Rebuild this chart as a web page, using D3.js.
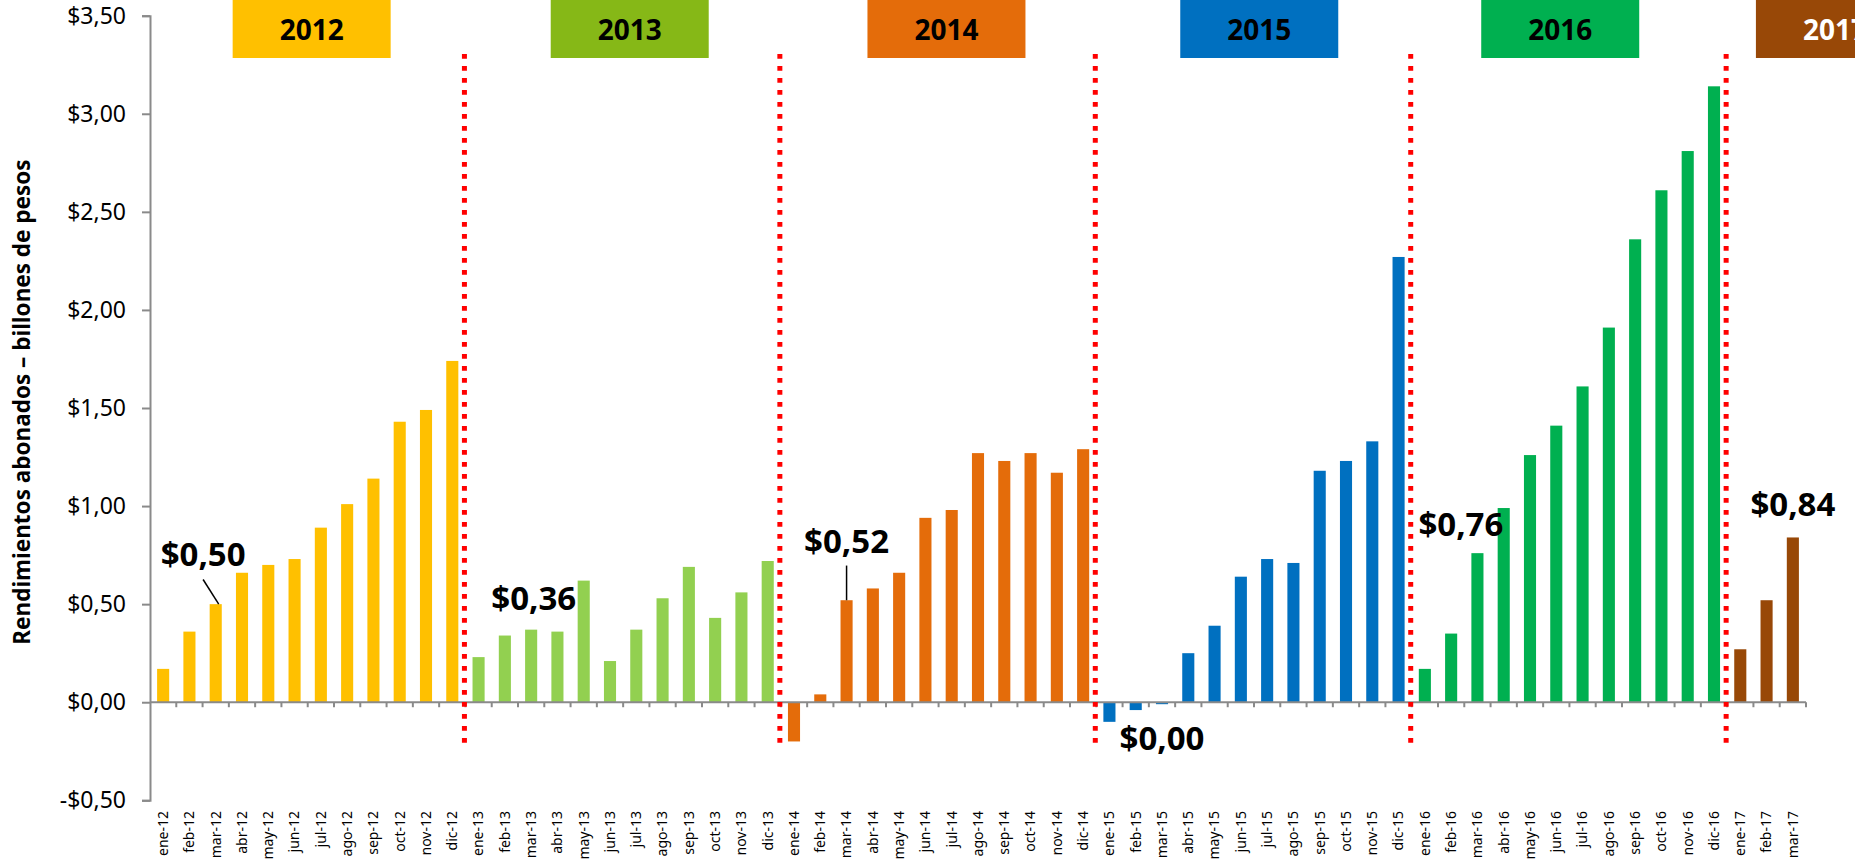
<!DOCTYPE html>
<html lang="es">
    <head>
        <meta charset="UTF-8" />
        <title>Rendimientos abonados</title>
        <script src="https://cdn.jsdelivr.net/npm/d3@7/dist/d3.min.js"></script>
    </head>
    <body style="padding: 0; margin: 0; background-color: #fff;">
        <script>
            // categorias (meses) por año
            const cats2012 = ['ene-12', 'feb-12', 'mar-12', 'abr-12', 'may-12', 'jun-12', 'jul-12', 'ago-12', 'sep-12', 'oct-12', 'nov-12', 'dic-12'];
            const cats2013 = ['ene-13', 'feb-13', 'mar-13', 'abr-13', 'may-13', 'jun-13', 'jul-13', 'ago-13', 'sep-13', 'oct-13', 'nov-13', 'dic-13'];
            const cats2014 = ['ene-14', 'feb-14', 'mar-14', 'abr-14', 'may-14', 'jun-14', 'jul-14', 'ago-14', 'sep-14', 'oct-14', 'nov-14', 'dic-14'];
            const cats2015 = ['ene-15', 'feb-15', 'mar-15', 'abr-15', 'may-15', 'jun-15', 'jul-15', 'ago-15', 'sep-15', 'oct-15', 'nov-15', 'dic-15'];
            const cats2016 = ['ene-16', 'feb-16', 'mar-16', 'abr-16', 'may-16', 'jun-16', 'jul-16', 'ago-16', 'sep-16', 'oct-16', 'nov-16', 'dic-16'];
            const cats2017 = ['ene-17', 'feb-17', 'mar-17'];

            // rendimientos abonados (billones de pesos)
            const vals2012 = [0.17, 0.36, 0.5, 0.66, 0.7, 0.73, 0.89, 1.01, 1.14, 1.43, 1.49, 1.74];
            const vals2013 = [0.23, 0.34, 0.37, 0.36, 0.62, 0.21, 0.37, 0.53, 0.69, 0.43, 0.56, 0.72];
            const vals2014 = [-0.2, 0.04, 0.52, 0.58, 0.66, 0.94, 0.98, 1.27, 1.23, 1.27, 1.17, 1.29];
            const vals2015 = [-0.1, -0.04, -0.01, 0.25, 0.39, 0.64, 0.73, 0.71, 1.18, 1.23, 1.33, 2.27];
            const vals2016 = [0.17, 0.35, 0.76, 0.99, 1.26, 1.41, 1.61, 1.91, 2.36, 2.61, 2.81, 3.14];
            const vals2017 = [0.27, 0.52, 0.84];

            const years = ['2012', '2013', '2014', '2015', '2016', '2017'];
            const yTicks = [-0.5, 0, 0.5, 1, 1.5, 2, 2.5, 3, 3.5];

            // etiquetas de marzo de cada año
            const marLabels = ['$0,50', '$0,36', '$0,52', '$0,00', '$0,76', '$0,84'];
            const marCats = ['mar-12', 'mar-13', 'mar-14', 'mar-15', 'mar-16', 'mar-17'];

            const yTitle = 'Rendimientos abonados – billones de pesos';

            // colores
            const barColors = ['#FFC000', '#92D050', '#E46C0A', '#0070C0', '#00B050', '#984807'];
            const boxColors = ['#FFC000', '#86B817', '#E46C0A', '#0070C0', '#00B050', '#984807'];
            const boxText = ['#000', '#000', '#000', '#000', '#000', '#fff'];

            // posicion de las cajas de año (en meses desde el inicio) y de las etiquetas
            const boxCenters = [6.15, 18.25, 30.3, 42.2, 53.65, 64.1];
            const labelPos = [
                { dx: -0.48, v: 0.692, leader: true },
                { dx: 0.1, v: 0.471 },
                { dx: 0, v: 0.763, leader: true },
                { dx: 0, v: -0.246 },
                { dx: -0.63, v: 0.848 },
                { dx: 0, v: 0.95 }
            ];

            const catGroups = [cats2012, cats2013, cats2014, cats2015, cats2016, cats2017];
            const valGroups = [vals2012, vals2013, vals2014, vals2015, vals2016, vals2017];
            const categories = catGroups.flat();
            const data = [];
            catGroups.forEach((cs, g) => {
                cs.forEach((c, i) => data.push({ cat: c, value: valGroups[g][i], year: g }));
            });

            const width = 1855;
            const height = 859;
            const font = '"Noto Sans", "Open Sans", sans-serif';
            const axisColor = '#8a8a8a';

            const svg = d3
                .select('body')
                .append('svg')
                .attr('width', width)
                .attr('height', height)
                .style('display', 'block')
                .style('font-family', font);

            const x = d3.scaleBand().domain(categories).range([150, 1806]).padding(0);
            const y = d3.scaleLinear().domain([-0.5, 3.5]).range([800.3, 15.7]);
            const bw = x.bandwidth();

            // eje y
            const yAxis = svg
                .append('g')
                .attr('transform', 'translate(150,0)')
                .call(
                    d3
                        .axisLeft(y)
                        .tickValues(yTicks)
                        .tickSize(8)
                        .tickPadding(16)
                        .tickFormat(v => (v < 0 ? '-' : '') + '$' + Math.abs(v).toFixed(2).replace('.', ','))
                );
            yAxis.select('.domain').attr('stroke', axisColor).attr('stroke-width', 2);
            yAxis.selectAll('.tick line').attr('stroke', axisColor).attr('stroke-width', 2);
            yAxis
                .selectAll('.tick text')
                .attr('fill', '#000')
                .style('font-family', font)
                .style('font-size', '23px');

            svg.append('text')
                .attr('transform', 'translate(22,402) rotate(-90)')
                .attr('dy', '0.35em')
                .attr('text-anchor', 'middle')
                .style('font-size', '22.5px')
                .style('font-weight', 'bold')
                .text(yTitle);

            // barras
            const barW = bw * 0.46;
            svg.append('g')
                .selectAll('rect')
                .data(data)
                .join('rect')
                .attr('x', d => x(d.cat) + (bw - barW) / 2)
                .attr('y', d => y(Math.max(0, d.value)))
                .attr('width', barW)
                .attr('height', d => Math.abs(y(d.value) - y(0)))
                .attr('fill', d => barColors[d.year]);

            // eje x en cero
            const xAxis = svg.append('g');
            xAxis.append('line')
                .attr('x1', x.range()[0])
                .attr('x2', x.range()[1])
                .attr('y1', y(0))
                .attr('y2', y(0))
                .attr('stroke', axisColor)
                .attr('stroke-width', 2);
            xAxis.selectAll('.xt')
                .data(categories)
                .join('line')
                .attr('class', 'xt')
                .attr('x1', d => x(d) + bw)
                .attr('x2', d => x(d) + bw)
                .attr('y1', y(0))
                .attr('y2', y(0) + 5)
                .attr('stroke', axisColor)
                .attr('stroke-width', 2);

            // etiquetas de meses abajo
            svg.append('g')
                .selectAll('text')
                .data(categories)
                .join('text')
                .attr('transform', d => `translate(${x(d) + bw / 2},811) rotate(-90)`)
                .attr('dy', '0.35em')
                .attr('text-anchor', 'end')
                .style('font-size', '14px')
                .text(d => d);

            // lineas punteadas entre años
            const splits = catGroups.slice(1).map(cs => cs[0]);
            svg.append('g')
                .selectAll('line')
                .data(splits)
                .join('line')
                .attr('x1', d => x(d) - 1)
                .attr('x2', d => x(d) - 1)
                .attr('y1', 742.7)
                .attr('y2', 49.3)
                .attr('stroke', '#FF0000')
                .attr('stroke-width', 5)
                .attr('stroke-dasharray', '4.7 7.3');

            // cajas de año
            const boxes = svg
                .append('g')
                .selectAll('g')
                .data(years)
                .join('g')
                .attr('transform', (d, i) => `translate(${x.range()[0] + boxCenters[i] * bw},0)`);
            boxes.append('rect')
                .attr('x', -79)
                .attr('y', 0)
                .attr('width', 158)
                .attr('height', 58)
                .attr('fill', (d, i) => boxColors[i]);
            boxes.append('text')
                .attr('y', 40)
                .attr('text-anchor', 'middle')
                .style('font-size', '28px')
                .style('font-weight', 'bold')
                .attr('fill', (d, i) => boxText[i])
                .text(d => d);

            // etiquetas de marzo
            const labels = svg.append('g');
            marLabels.forEach((t, i) => {
                const p = labelPos[i];
                const cx = x(marCats[i]) + bw / 2;
                labels.append('text')
                    .attr('x', cx + p.dx * bw)
                    .attr('y', y(p.v))
                    .attr('text-anchor', 'middle')
                    .style('font-size', '33px')
                    .style('font-weight', 'bold')
                    .text(t);
                if (p.leader) {
                    const v = valGroups[i][2];
                    const x1 = cx + p.dx * bw;
                    labels.append('line')
                        .attr('x1', x1)
                        .attr('y1', y(p.v) + 13)
                        .attr('x2', cx + 3 * (p.dx !== 0))
                        .attr('y2', y(v))
                        .attr('stroke', '#000')
                        .attr('stroke-width', 1.5);
                }
            });
        </script>
    </body>
</html>
